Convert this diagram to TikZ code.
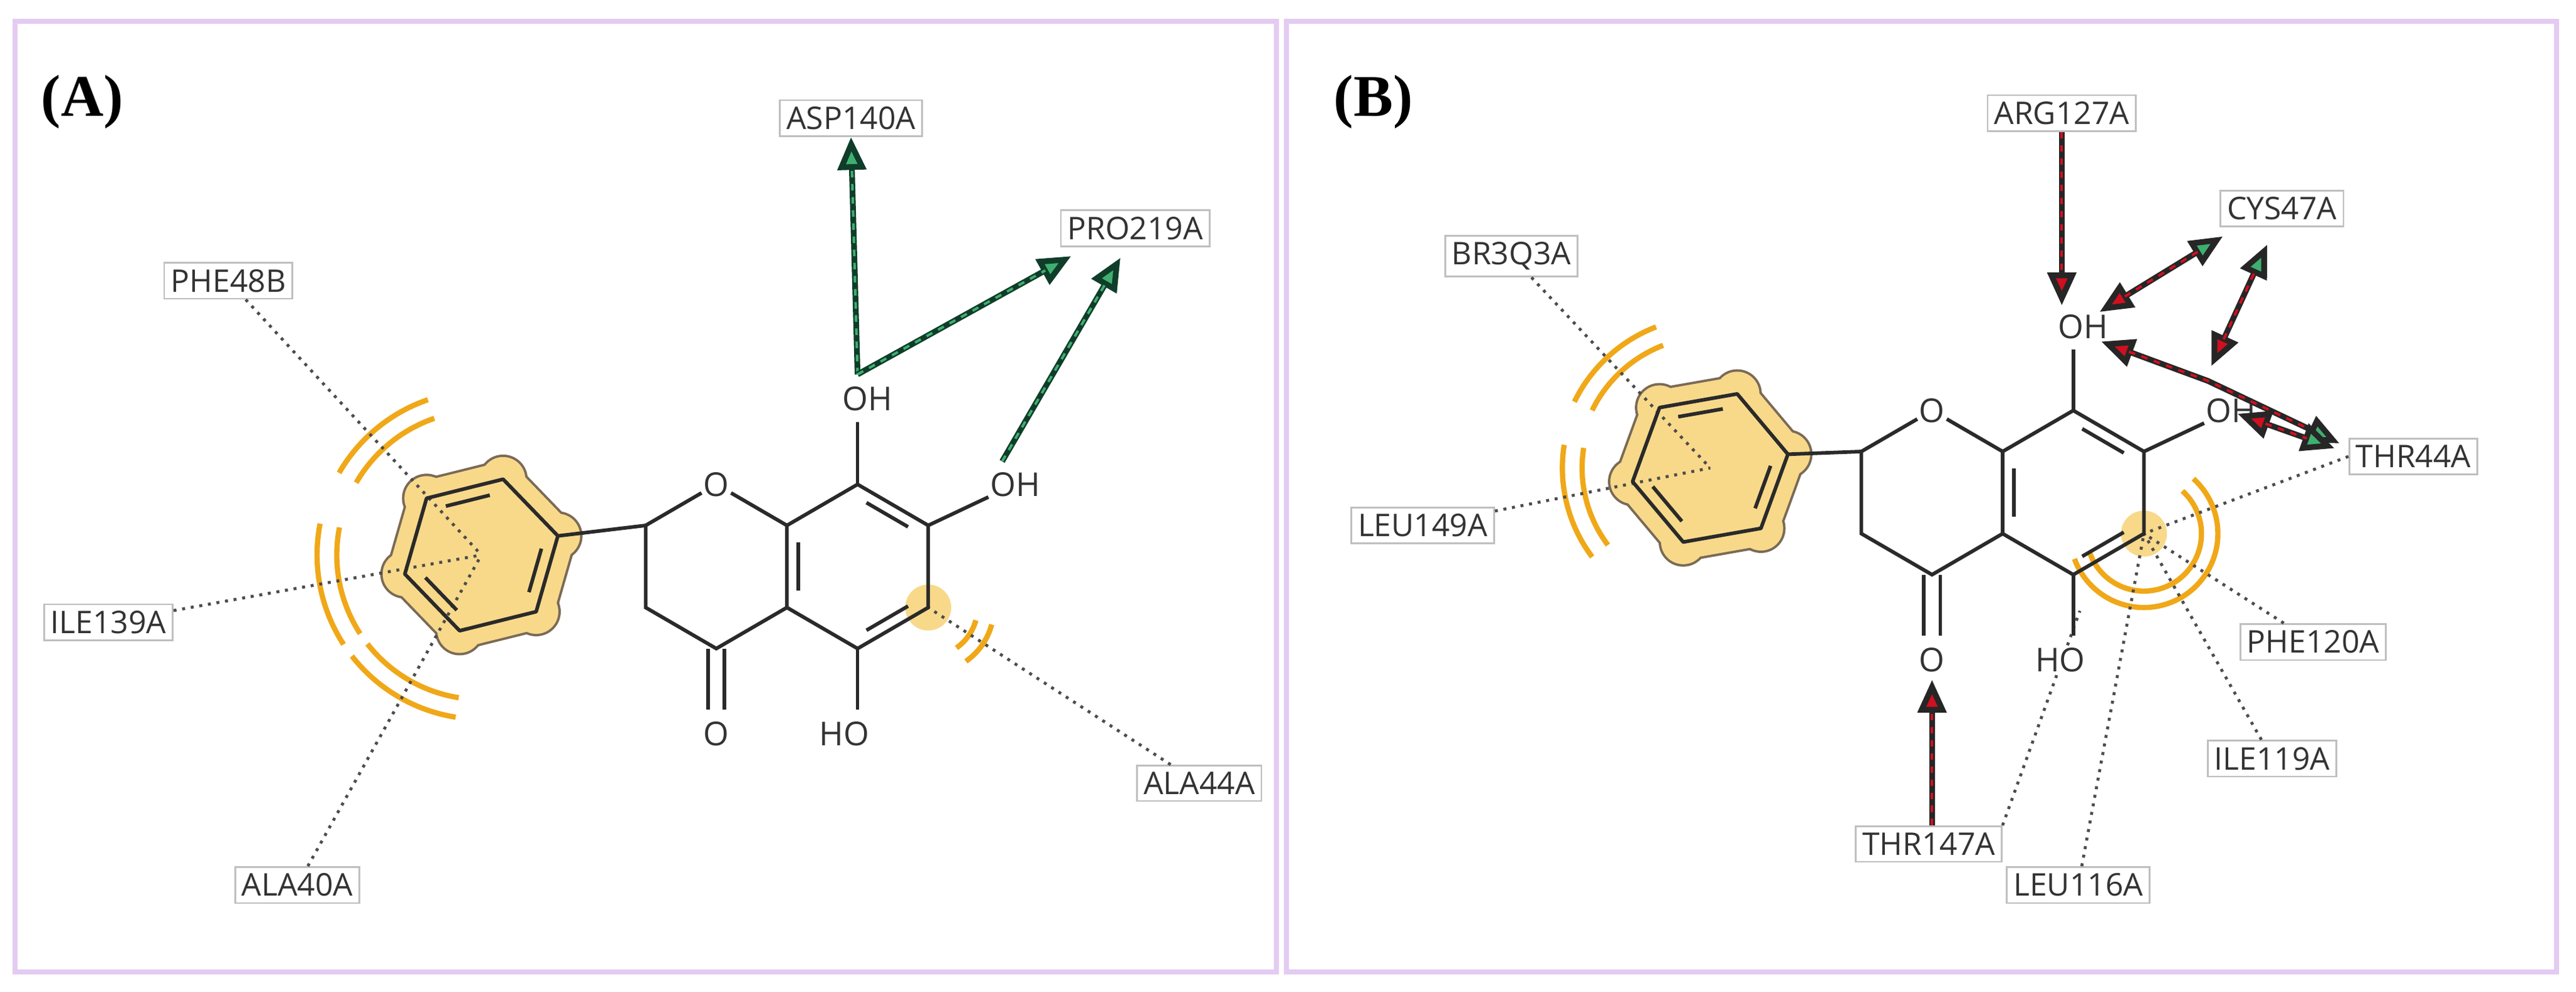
\documentclass[tikz,border=0pt]{standalone}
\usepackage{fontspec}
\setmainfont{Liberation Serif}
\newfontfamily\lab{Open Sans}
\usetikzlibrary{arrows.meta,calc}
\definecolor{frm}{HTML}{E3CBF2}
\definecolor{hl}{HTML}{F8D98A}
\definecolor{hlo}{HTML}{7A6A56}
\definecolor{arcc}{HTML}{F0A818}
\definecolor{dg}{HTML}{0F3D2A}
\definecolor{lg}{HTML}{3FAF6F}
\definecolor{rd}{HTML}{D01020}
\definecolor{bnd}{HTML}{2A2A2A}
\tikzset{
 res/.style={draw=black!25,fill=white,line width=1pt,font=\lab\fontsize{19}{20}\selectfont,text=black!80,inner sep=4pt},
 atom/.style={font=\lab\fontsize{20}{21}\selectfont,text=black!80,inner sep=1pt,fill=white},
 bond/.style={draw=bnd,line width=2.2pt},
 dotl/.style={draw=black!70,line width=1.8pt,dash pattern=on 1.8pt off 3.5pt},
 pia/.style={draw=arcc,line width=3.2pt},
 tg/.tip={Triangle[length=20pt,width=17pt,fill=lg]},
 tr/.tip={Triangle[length=20pt,width=17pt,fill=rd]},
 hbg/.style={draw=dg,line width=3.5pt,-tg},
 hbgd/.style={draw=lg,line width=1.5pt,dash pattern=on 4pt off 4pt,shorten >=18pt},
 hbr/.style={draw=black!85,line width=3.5pt,-tr},
 hbrd/.style={draw=rd,line width=1.5pt,dash pattern=on 4pt off 4pt,shorten >=18pt},
 hbm/.style={draw=black!85,line width=3.5pt,tr-tg},
 hbmd/.style={draw=rd,line width=1.5pt,dash pattern=on 4pt off 4pt,shorten >=18pt,shorten <=18pt},
 panel/.style={font=\bfseries\fontsize{36}{38}\selectfont},
}
\newcommand{\hlring}[1]{%
 \foreach \i in {0,...,5}{\fill[hlo] (#1\i) circle (15);}
 \draw[hlo,line width=24pt,line join=round,fill=hlo] (#10)--(#11)--(#12)--(#13)--(#14)--(#15)--cycle;
 \foreach \i in {0,...,5}{\fill[hl] (#1\i) circle (13.5);}
 \draw[hl,line width=21pt,line join=round,fill=hl] (#10)--(#11)--(#12)--(#13)--(#14)--(#15)--cycle;}
\begin{document}
\begin{tikzpicture}[x=1pt,y=-1pt]
\useasboundingbox (0,0) rectangle (1568,604);
\fill[white] (0,0) rectangle (1568,604);
\draw[frm,line width=3pt] (9,13) rectangle (777,592);
\draw[frm,line width=3pt] (783,13) rectangle (1556,592);
\node[panel] (labA) at (50,62) {(A)};
\node[panel] (labB) at (836,62) {(B)};

% ===== Panel A =====
\coordinate (PA) at (293,338);
\foreach \i in {0,...,5}{\coordinate (pa\i) at ($(PA)+({-14+60*\i}:48)$);}
\node[res] (asp140) at (518,72) {ASP140A};
\node[res] (pro219) at (691,139) {PRO219A};
\node[res] (phe48) at (139,171) {PHE48B};
\node[res] (ile139) at (66,379) {ILE139A};
\node[res] (ala40) at (181,539) {ALA40A};
\node[res] (ala44) at (730,477) {ALA44A};
\hlring{pa}
\coordinate (A6) at (565,370);
\fill[hl] (A6) circle (14);
\draw[pia] (PA) ++(-150:100) arc[start angle=-150,end angle=-109,radius=100];
\draw[pia] (PA) ++(-150:88) arc[start angle=-150,end angle=-109,radius=88];
\draw[pia] (PA) ++(-213:100) arc[start angle=-213,end angle=-169,radius=100];
\draw[pia] (PA) ++(-213:88) arc[start angle=-213,end angle=-169,radius=88];
\draw[pia] (PA) ++(-261:100) arc[start angle=-261,end angle=-218,radius=100];
\draw[pia] (PA) ++(-261:88) arc[start angle=-261,end angle=-218,radius=88];
\draw[pia] (A6) ++(15:30) arc[start angle=15,end angle=55,radius=30];
\draw[pia] (A6) ++(15:40) arc[start angle=15,end angle=55,radius=40];
\draw[dotl] (phe48) -- (PA);
\draw[dotl] (ile139) -- (PA);
\draw[dotl] (ala40) -- (PA);
\draw[dotl] (ala44) -- (A6);
\draw[bond,line join=round] (pa0)--(pa1)--(pa2)--(pa3)--(pa4)--(pa5)--cycle;
\foreach \i/\j in {0/1,2/3,4/5}{\draw[bond] ($(pa\i)!0.15!(pa\j)!0.18!(PA)$) -- ($(pa\j)!0.15!(pa\i)!0.18!(PA)$);}
\coordinate (a8) at (522,295); \coordinate (a7) at (565,320); \coordinate (a5) at (522,395);
\coordinate (a4a) at (479,370); \coordinate (a8a) at (479,320);
\coordinate (a2) at (393,320); \coordinate (a3) at (393,370); \coordinate (a4) at (436,395);
\node[atom] (aO1) at (436,295) {O};
\node[atom] (aO8) at (528,243) {OH};
\node[atom] (aO7) at (618,295) {OH};
\node[atom] (aO5) at (514,447) {HO};
\node[atom] (aO4) at (436,447) {O};
\draw[bond] (pa0) -- (a2) -- (aO1) -- (a8a) -- (a8) -- (a7) -- (A6) -- (a5) -- (a4a) -- (a8a);
\draw[bond] (a2) -- (a3) -- (a4) -- (a4a);
\draw[bond] (a8) -- (522,257);
\draw[bond] (a7) -- (aO7);
\draw[bond] (a5) -- (522,432);
\draw[bond] (431,395) -- (431,432); \draw[bond] (441,395) -- (441,432);
\draw[bond] ($(a8)!0.15!(a7)!0.16!(522,345)$) -- ($(a7)!0.15!(a8)!0.16!(522,345)$);
\draw[bond] ($(a8a)!0.15!(a4a)!0.16!(522,345)$) -- ($(a4a)!0.15!(a8a)!0.16!(522,345)$);
\draw[bond] ($(A6)!0.15!(a5)!0.16!(522,345)$) -- ($(a5)!0.15!(A6)!0.16!(522,345)$);
\coordinate (aH8) at (522,228);
\coordinate (aH7) at (610,281);
\draw[hbg] (aH8) -- (asp140.south);
\draw[hbgd] (aH8) -- (asp140.south);
\draw[hbg] (aH8) -- (652,156);
\draw[hbgd] (aH8) -- (652,156);
\draw[hbg] (aH7) -- (682,157);
\draw[hbgd] (aH7) -- (682,157);

% ===== Panel B =====
\coordinate (PB) at (1041,285);
\foreach \i in {0,...,5}{\coordinate (pb\i) at ($(PB)+({-10+60*\i}:48)$);}
\node[res] (arg127) at (1255,69) {ARG127A};
\node[res] (cys47) at (1389,127) {CYS47A};
\node[res] (br303) at (920,156) {BR3Q3A};
\node[res] (leu149) at (866,320) {LEU149A};
\node[res] (thr44) at (1469,278) {THR44A};
\node[res] (phe120) at (1408,391) {PHE120A};
\node[res] (ile119) at (1383,462) {ILE119A};
\node[res] (thr147) at (1174,514) {THR147A};
\node[res] (leu116) at (1265,539) {LEU116A};
\hlring{pb}
\coordinate (B6) at (1305,325);
\fill[hl] (B6) circle (14);
\draw[pia] (PB) ++(-154:92) arc[start angle=-154,end angle=-111,radius=92];
\draw[pia] (PB) ++(-154:80) arc[start angle=-154,end angle=-111,radius=80];
\draw[pia] (PB) ++(-217:90) arc[start angle=-217,end angle=-171,radius=90];
\draw[pia] (PB) ++(-217:78) arc[start angle=-217,end angle=-171,radius=78];
\draw[pia] (B6) ++(160:35) arc[start angle=160,end angle=-48,radius=35];
\draw[pia] (B6) ++(160:45) arc[start angle=160,end angle=-48,radius=45];
\draw[dotl] (br303) -- (PB);
\draw[dotl] (leu149) -- (PB);
\draw[dotl] (thr44.west) -- (B6);
\draw[dotl] (phe120) -- (B6);
\draw[dotl] (ile119) -- (B6);
\draw[dotl] (leu116) -- (B6);
\draw[dotl] (thr147.north east) -- (1266,372);
\draw[bond,line join=round] (pb0)--(pb1)--(pb2)--(pb3)--(pb4)--(pb5)--cycle;
\foreach \i/\j in {0/1,2/3,4/5}{\draw[bond] ($(pb\i)!0.15!(pb\j)!0.18!(PB)$) -- ($(pb\j)!0.15!(pb\i)!0.18!(PB)$);}
\coordinate (b8) at (1262,250); \coordinate (b7) at (1305,275); \coordinate (b5) at (1262,350);
\coordinate (b4a) at (1219,325); \coordinate (b8a) at (1219,275);
\coordinate (b2) at (1133,275); \coordinate (b3) at (1133,325); \coordinate (b4) at (1176,350);
\node[atom] (bO1) at (1176,250) {O};
\node[atom] (bO8) at (1268,199) {OH};
\node[atom] (bO7) at (1358,250) {OH};
\node[atom] (bO5) at (1254,402) {HO};
\node[atom] (bO4) at (1176,402) {O};
\draw[bond] (pb0) -- (b2) -- (bO1) -- (b8a) -- (b8) -- (b7) -- (B6) -- (b5) -- (b4a) -- (b8a);
\draw[bond] (b2) -- (b3) -- (b4) -- (b4a);
\draw[bond] (b8) -- (1262,213);
\draw[bond] (b7) -- (bO7);
\draw[bond] (b5) -- (1262,387);
\draw[bond] (1171,350) -- (1171,387); \draw[bond] (1181,350) -- (1181,387);
\draw[bond] ($(b8)!0.15!(b7)!0.16!(1262,300)$) -- ($(b7)!0.15!(b8)!0.16!(1262,300)$);
\draw[bond] ($(b8a)!0.15!(b4a)!0.16!(1262,300)$) -- ($(b4a)!0.15!(b8a)!0.16!(1262,300)$);
\draw[bond] ($(B6)!0.15!(b5)!0.16!(1262,300)$) -- ($(b5)!0.15!(B6)!0.16!(1262,300)$);
\coordinate (m1) at (1344,232);
\draw[hbr] (arg127.south) -- (1255,186); \draw[hbrd] (arg127.south) -- (1255,186);
\draw[hbr] (thr147.north -| 1176,0) -- (1176,414); \draw[hbrd] (thr147.north -| 1176,0) -- (1176,414);
\draw[hbm] (1278,190) -- (1353,144);
\draw[hbmd] (1278,190) -- (1353,144);
\draw[hbm] (1346,223) -- (1380,149);
\draw[hbmd] (1346,223) -- (1380,149);
\draw[hbm] (1279,208) -- (m1) -- (1424,270);
\draw[hbmd] (1279,208) -- (m1) -- (1424,270);
\draw[hbm] (1362,252) -- (1421,273);
\draw[hbmd] (1362,252) -- (1421,273);
\end{tikzpicture}
\end{document}
